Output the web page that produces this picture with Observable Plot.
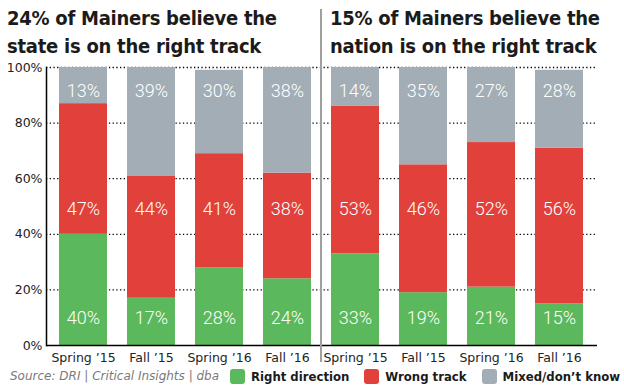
<!DOCTYPE html>
<html>
<head>
<meta charset="utf-8">
<script src="https://cdn.jsdelivr.net/npm/d3@7"></script>
<script src="https://cdn.jsdelivr.net/npm/@observablehq/plot@0.6"></script>
<style>
  html, body { margin: 0; padding: 0; background: #fff; }
  #wrap { position: relative; width: 624px; height: 390px; overflow: hidden; font-family: "DejaVu Sans", Verdana, sans-serif; }
  #wrap svg { position: absolute; left: 0; top: 0; }
  .title { position: absolute; top: 4px; font-weight: bold; font-size: 20px; line-height: 28px; color: #1b1b1b; font-stretch: condensed; white-space: nowrap; letter-spacing: -0.25px; }
  .source { position: absolute; left: 10px; top: 369px; font-style: italic; font-size: 12px; color: #7a7a7a; white-space: nowrap; }
  .legend { position: absolute; left: 230px; top: 369px; display: flex; align-items: center; white-space: nowrap; }
  .legend .item { display: flex; align-items: center; margin-right: 15px; }
  .legend .sw { width: 15px; height: 15px; border-radius: 3px; margin-right: 6px; }
  .legend .lab { font-weight: bold; font-size: 13px; color: #1b1b1b; font-stretch: condensed; }
  .sep { position: absolute; width: 2px; background: #a0a0a0; }
</style>
</head>
<body>
<div id="wrap"></div>
<script>
// ---- data ----
const periods = ["Spring \u201915", "Fall \u201915", "Spring \u201916", "Fall \u201916"];
const panels = ["state", "nation"];
const titleLines = [
  ["24% of Mainers believe the", "state is on the right track"],
  ["15% of Mainers believe the", "nation is on the right track"]
];
const categories = ["Right direction", "Wrong track", "Mixed/don\u2019t know"];
const colors = ["#5cb85c", "#e2403a", "#a3adb5"];
const stateRight = [40, 17, 28, 24];
const stateWrong = [47, 44, 41, 38];
const stateMixed = [13, 39, 30, 38];
const nationRight = [33, 19, 21, 15];
const nationWrong = [53, 46, 52, 56];
const nationMixed = [14, 35, 27, 28];
const yTicks = [0, 20, 40, 60, 80, 100];
const sourceText = "Source: DRI | Critical Insights | dba";

// ---- build table ----
const series = {
  state: [stateRight, stateWrong, stateMixed],
  nation: [nationRight, nationWrong, nationMixed]
};
const keys = [];
const rows = [];
panels.forEach(p => {
  periods.forEach((per, i) => {
    const key = p + "|" + per;
    keys.push(key);
    categories.forEach((c, ci) => {
      rows.push({key, panel: p, period: per, cat: c, value: series[p][ci][i]});
    });
  });
});

const labelOf = d => d.value + "%";
const textStyle = {x: "key", text: labelOf, fill: "white", fontSize: 18, fontFamily: "Roboto, 'Liberation Sans', sans-serif", fontWeight: 300};

const plot = Plot.plot({
  width: 624,
  height: 390,
  marginTop: 67,
  marginBottom: 45,
  marginLeft: 46,
  marginRight: 27,
  style: {fontFamily: "'DejaVu Sans', Verdana, sans-serif", fontSize: "12px", color: "#222", background: "transparent"},
  x: {domain: keys, paddingInner: 0.29, paddingOuter: 0.138, label: null},
  y: {domain: [0, 100], label: null},
  color: {domain: categories, range: colors},
  marks: [
    Plot.ruleY(yTicks.filter(t => t > 0), {stroke: "#000", strokeWidth: 1.3, strokeDasharray: "1.3,2.4"}),
    Plot.barY(rows, {x: "key", y: "value", fill: "cat", order: categories}),
    Plot.ruleY([0], {stroke: "#000", strokeWidth: 1.5}),
    Plot.frame({anchor: "left", stroke: "#000", strokeWidth: 1.5}),
    Plot.axisY({ticks: yTicks, tickFormat: d => d + "%", tickSize: 0, tickPadding: 4, fontSize: 12.5, label: null}),
    Plot.axisX({tickSize: 0, tickPadding: 8, fontSize: 12.5, label: null, tickFormat: k => k.split("|")[1]}),
    Plot.text(rows.filter(d => d.cat === categories[2]), {...textStyle, frameAnchor: "top", dy: 17}),
    Plot.text(rows.filter(d => d.cat === categories[1]), {...textStyle, frameAnchor: "middle", dy: 3}),
    Plot.text(rows.filter(d => d.cat === categories[0]), {...textStyle, frameAnchor: "bottom", dy: -22})
  ]
});

const wrap = document.getElementById("wrap");
wrap.appendChild(plot);

// separator between panels, positioned from the x scale
const xs = plot.scale("x");
const sepX = (xs.apply(keys[3]) + xs.bandwidth + xs.apply(keys[4])) / 2;
const sep = document.createElement("div");
sep.className = "sep";
sep.style.left = (sepX - 1) + "px";
sep.style.top = "9px";
sep.style.height = "353px";
wrap.appendChild(sep);

// titles
const titleLeft = [7, sepX + 9];
titleLines.forEach((lines, i) => {
  const t = document.createElement("div");
  t.className = "title";
  t.style.left = titleLeft[i] + "px";
  t.innerHTML = lines.map(l => l.replace(/&/g, "&amp;")).join("<br>");
  wrap.appendChild(t);
});

// source
const src = document.createElement("div");
src.className = "source";
src.textContent = sourceText;
wrap.appendChild(src);

// legend
const leg = document.createElement("div");
leg.className = "legend";
categories.forEach((c, i) => {
  const it = document.createElement("div");
  it.className = "item";
  const sw = document.createElement("div");
  sw.className = "sw";
  sw.style.background = colors[i];
  const lab = document.createElement("span");
  lab.className = "lab";
  lab.textContent = c;
  it.appendChild(sw);
  it.appendChild(lab);
  leg.appendChild(it);
});
wrap.appendChild(leg);
</script>
</body>
</html>
